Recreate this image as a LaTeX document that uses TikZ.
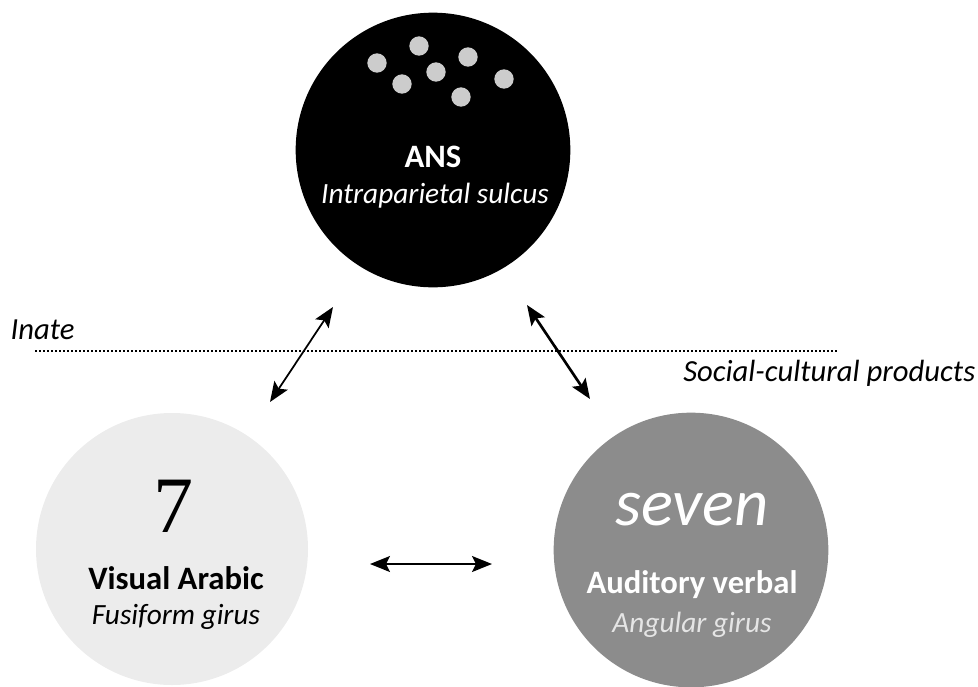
\documentclass[tikz,border=0pt]{standalone}
\usepackage{fontspec}
\setmainfont{Carlito}
\newfontfamily\digitfont{Liberation Serif}
\usetikzlibrary{arrows.meta,positioning}

\begin{document}
\begin{tikzpicture}[
    x=0.75pt, y=-0.75pt,
    % Region styles
    innate/.style={circle, fill=black, minimum size=206pt, inner sep=0pt},
    visual/.style={circle, fill=gray!15, minimum size=204pt, inner sep=0pt},
    verbal/.style={circle, fill=black!45, minimum size=206pt, inner sep=0pt},
    dot/.style={circle, fill=gray!40, minimum size=14.5pt, inner sep=0pt},
    % Text styles
    title/.style={font=\fontsize{24.5}{28}\selectfont\bfseries},
    area/.style={font=\fontsize{22}{26}\selectfont\itshape},
    side/.style={font=\fontsize{23}{26}\selectfont\itshape},
    % Arrow styles
    arrow/.style={{Stealth[length=15pt, width=12pt, inset=3pt]}-{Stealth[length=15pt, width=12pt, inset=3pt]}, line width=1.3pt},
    bigarrow/.style={arrow, line width=2pt}
]
    \useasboundingbox (0,0) rectangle (978,686);

    % Regions
    \node[innate] (ans) at (433,150) {};
    \node[visual] (arabic) at (172,549) {};
    \node[verbal] (verbal) at (691,550) {};

    % Dots of the approximate number system
    \foreach \px/\py [count=\i] in {419/46, 377/63, 468/57, 436/72, 402/84, 504/79, 461/97}
        \node[dot] (dot\i) at (\px,\py) {};

    % Labels
    \node[title, text=white] (ansname) at (433,157) {ANS};
    \node[area, text=white] (ansarea) at (435,196) {Intraparietal sulcus};

    \node[font=\digitfont\fontsize{60}{62}\selectfont] (seven) at (173,506) {7};
    \node[title] (arabicname) at (176,578) {Visual Arabic};
    \node[area] (arabicarea) at (176,617) {Fusiform girus};

    \node[font=\fontsize{50}{54}\selectfont\itshape, text=white] (word) at (692,510) {seven};
    \node[title, text=white] (verbalname) at (692,585) {Auditory verbal};
    \node[area, text=gray!20] (verbalarea) at (692,625) {Angular girus};

    % Innate / cultural divide
    \coordinate (divL) at (35,351);
    \coordinate (divR) at (837,351);
    \draw[line width=1.3pt, dash pattern=on 1.5pt off 1.5pt] (divL) -- (divR);
    \node[side, anchor=west] (inate) at (6,330) {Inate};
    \node[side, anchor=east] (cultural) at (980,373) {Social-cultural products};

    % Connections
    \coordinate (ansL) at (333,307);
    \coordinate (arabicU) at (270,402);
    \coordinate (ansR) at (527,305);
    \coordinate (verbalU) at (590,399);
    \coordinate (arabicR) at (370,564);
    \coordinate (verbalL) at (492,564);
    \draw[arrow] (ansL) -- (arabicU);
    \draw[bigarrow] (ansR) -- (verbalU);
    \draw[arrow] (arabicR) -- (verbalL);
\end{tikzpicture}
\end{document}
